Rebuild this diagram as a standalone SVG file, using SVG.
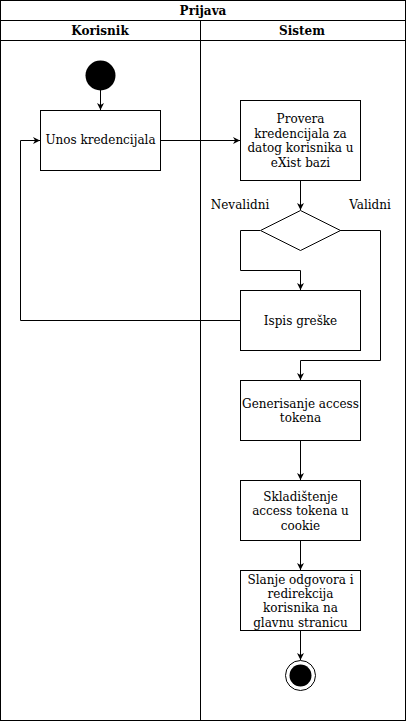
<svg xmlns="http://www.w3.org/2000/svg" width="406" height="721" viewBox="0 0 406 721">
<style>
text{font-family:"DejaVu Serif",serif;font-size:12px;fill:#000;text-anchor:middle}
.b{font-weight:bold}
.box{fill:#fff;stroke:#000;stroke-width:1}
.ln{fill:none;stroke:#000;stroke-width:1}
</style>
<defs>
<marker id="ar" viewBox="0 0 10 10" refX="10" refY="5" markerWidth="7" markerHeight="7" markerUnits="userSpaceOnUse" orient="auto">
<path d="M0,0 L10,5 L0,10 L3,5 Z" fill="#000"/>
</marker>
</defs>
<g id="pool">
<rect x="0.5" y="0.5" width="405" height="720" class="box"/>
<line x1="0.5" y1="20.5" x2="405.5" y2="20.5" class="ln"/>
<line x1="0.5" y1="40.5" x2="405.5" y2="40.5" class="ln"/>
<line x1="200.5" y1="20.5" x2="200.5" y2="720.5" class="ln"/>
<text x="203" y="15" class="b">Prijava</text>
<text x="100" y="35" class="b">Korisnik</text>
<text x="302" y="35" class="b">Sistem</text>
</g>
<g id="connectors">
<line x1="100.5" y1="90" x2="100.5" y2="110" class="ln" marker-end="url(#ar)"/>
<line x1="160" y1="140.5" x2="240" y2="140.5" class="ln" marker-end="url(#ar)"/>
<line x1="300.5" y1="180" x2="300.5" y2="210" class="ln" marker-end="url(#ar)"/>
<polyline points="260,230.5 240.5,230.5 240.5,270.5 300.5,270.5 300.5,290" class="ln" marker-end="url(#ar)"/>
<polyline points="340,230.5 380.5,230.5 380.5,360.5 300.5,360.5 300.5,380" class="ln" marker-end="url(#ar)"/>
<polyline points="240,320.5 20.5,320.5 20.5,140.5 40,140.5" class="ln" marker-end="url(#ar)"/>
<line x1="300.5" y1="440" x2="300.5" y2="480" class="ln" marker-end="url(#ar)"/>
<line x1="300.5" y1="540" x2="300.5" y2="570" class="ln" marker-end="url(#ar)"/>
<line x1="300.5" y1="630" x2="300.5" y2="660" class="ln" marker-end="url(#ar)"/>
<text x="240" y="209">Nevalidni</text>
<text x="370" y="209">Validni</text>
</g>
<g id="start"><circle cx="100.5" cy="75.5" r="15" fill="#000"/></g>
<g id="unos">
<rect x="40.5" y="110.5" width="120" height="60" class="box"/>
<text x="100.5" y="144">Unos kredencijala</text>
</g>
<g id="provera">
<rect x="240.5" y="100.5" width="120" height="80" class="box"/>
<text x="300.5" y="123">Provera</text>
<text x="300.5" y="137.5">kredencijala za</text>
<text x="300.5" y="152">datog korisnika u</text>
<text x="300.5" y="166.5">eXist bazi</text>
</g>
<g id="odluka">
<polygon points="300.5,210.5 340.5,230.5 300.5,250.5 260.5,230.5" class="box"/>
</g>
<g id="ispis">
<rect x="240.5" y="290.5" width="120" height="60" class="box"/>
<text x="300.5" y="325">Ispis greške</text>
</g>
<g id="generisanje">
<rect x="240.5" y="380.5" width="120" height="60" class="box"/>
<text x="300.5" y="408">Generisanje access</text>
<text x="300.5" y="422">tokena</text>
</g>
<g id="skladistenje">
<rect x="240.5" y="480.5" width="120" height="60" class="box"/>
<text x="300.5" y="500.5">Skladištenje</text>
<text x="300.5" y="515">access tokena u</text>
<text x="300.5" y="529.5">cookie</text>
</g>
<g id="slanje">
<rect x="240.5" y="570.5" width="120" height="60" class="box"/>
<text x="300.5" y="583.5">Slanje odgovora i</text>
<text x="300.5" y="598">redirekcija</text>
<text x="300.5" y="612">korisnika na</text>
<text x="300.5" y="626.5">glavnu stranicu</text>
</g>
<g id="kraj">
<circle cx="300.5" cy="675.5" r="15" class="box"/>
<circle cx="300.5" cy="675.5" r="11" fill="#000"/>
</g>
</svg>
